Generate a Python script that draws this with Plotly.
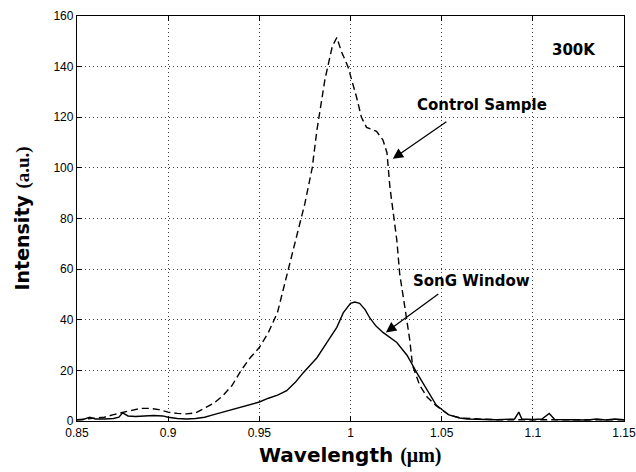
import plotly.graph_objects as go

# ---- data ----
control_wl = [0.850, 0.855, 0.860, 0.865, 0.870, 0.875, 0.880, 0.885, 0.890, 0.895,
              0.900, 0.905, 0.910, 0.915, 0.920, 0.925, 0.930, 0.935, 0.940, 0.945,
              0.950, 0.955, 0.960, 0.965, 0.971, 0.975, 0.979, 0.9816, 0.986, 0.990,
              0.9925, 0.995, 0.9986, 1.0033, 1.006, 1.0088, 1.0143, 1.0178, 1.020, 1.0216,
              1.0254, 1.027, 1.0298, 1.0325, 1.034, 1.038, 1.042, 1.047, 1.054, 1.060,
              1.070, 1.080, 1.100, 1.120, 1.150]
control_int = [0.5, 0.8, 1.0, 1.5, 2.5, 3.5, 4.2, 5.0, 5.0, 4.5,
               3.5, 3.0, 2.8, 3.2, 5.0, 7.0, 10.0, 14.0, 20.0, 25.0,
               29.0, 35.0, 43.0, 57.0, 74.0, 86.0, 100.0, 115.0, 135.0, 148.0,
               151.5, 146.0, 140.0, 128.0, 120.0, 116.0, 114.4, 111.0, 106.0, 92.5,
               71.5, 58.0, 45.0, 32.0, 22.0, 14.0, 9.5, 6.0, 2.4, 1.2,
               0.8, 0.5, 0.5, 0.5, 0.5]

song_wl = [0.850, 0.853, 0.857, 0.860, 0.865, 0.870, 0.873, 0.875, 0.878, 0.882,
           0.887, 0.892, 0.897, 0.900, 0.905, 0.910, 0.915, 0.920, 0.925, 0.930,
           0.935, 0.940, 0.945, 0.950, 0.955, 0.960, 0.965, 0.970, 0.974, 0.978,
           0.9816, 0.987, 0.9925, 0.996, 1.000, 1.0024, 1.005, 1.008, 1.0106, 1.014,
           1.0178, 1.0254, 1.031, 1.0364, 1.042, 1.047, 1.054, 1.060, 1.064, 1.070,
           1.080, 1.090, 1.0923, 1.094, 1.100, 1.105, 1.109, 1.112, 1.120, 1.130,
           1.135, 1.140, 1.145, 1.150]
song_int = [0.5, 0.5, 1.5, 0.8, 0.8, 1.0, 1.5, 3.2, 2.0, 1.8,
            2.0, 2.2, 2.0, 1.5, 1.0, 0.8, 1.0, 1.5, 2.5, 3.5,
            4.5, 5.5, 6.5, 7.5, 9.0, 10.2, 12.0, 15.5, 19.0, 22.0,
            25.0, 31.0, 37.0, 42.7, 46.5, 47.0, 46.5, 44.0, 40.7, 37.5,
            35.0, 31.0, 26.0, 19.0, 12.0, 6.3, 2.4, 1.2, 0.8, 0.6,
            0.5, 0.8, 3.5, 0.8, 0.6, 0.8, 3.0, 0.6, 0.4, 0.4,
            0.8, 0.4, 0.8, 0.5]

x_ticks = [0.85, 0.9, 0.95, 1.0, 1.05, 1.1, 1.15]
x_tick_labels = ["0.85", "0.9", "0.95", "1", "1.05", "1.1", "1.15"]
y_ticks = [0, 20, 40, 60, 80, 100, 120, 140, 160]

FONT = "Liberation Sans, Arial, Helvetica, sans-serif"
BOLD = "DejaVu Sans, Liberation Sans, sans-serif"

fig = go.Figure()
fig.add_trace(go.Scatter(x=control_wl, y=control_int, mode="lines",
                         line=dict(color="black", width=1.4, dash="7px,4px"),
                         name="Control Sample", showlegend=False))
fig.add_trace(go.Scatter(x=song_wl, y=song_int, mode="lines",
                         line=dict(color="black", width=1.4),
                         name="SonG Window", showlegend=False))

fig.add_annotation(x=1.1228, y=146.6, text="<b>300K</b>", showarrow=False,
                   font=dict(family=BOLD, size=15, color="black"))
fig.add_annotation(x=1.0232, y=103.6, ax=1.0534, ay=118.6, axref="x", ayref="y",
                   text="", showarrow=True, arrowhead=2, arrowsize=1.6, arrowwidth=1.3,
                   arrowcolor="black")
fig.add_annotation(x=1.0723, y=124.9, text="<b>Control Sample</b>", showarrow=False,
                   font=dict(family=BOLD, size=15, color="black"))
fig.add_annotation(x=1.0194, y=35, ax=1.049, ay=50.6, axref="x", ayref="y",
                   text="", showarrow=True, arrowhead=2, arrowsize=1.6, arrowwidth=1.3,
                   arrowcolor="black")
fig.add_annotation(x=1.0663, y=55.3, text="<b>SonG Window</b>", showarrow=False,
                   font=dict(family=BOLD, size=15, color="black"))

# axis titles
fig.add_annotation(x=0.5, y=-0.084, xref="paper", yref="paper", showarrow=False,
                   xanchor="center", yanchor="middle",
                   text="<b>Wavelength </b><b><span style='font-family:Liberation Serif'>(μm)</span></b>",
                   font=dict(family=BOLD, size=20, color="black"))
fig.add_annotation(x=-0.1005, y=0.5, xref="paper", yref="paper", showarrow=False,
                   xanchor="center", yanchor="middle", textangle=-90,
                   text="<b>Intensity </b><b><span style='font-family:Liberation Serif'>(a.u.)</span></b>",
                   font=dict(family=BOLD, size=19, color="black"))

axis_common = dict(showline=True, linecolor="black", linewidth=1.3, mirror="ticks",
                   ticks="inside", ticklen=5, tickcolor="black", tickwidth=1,
                   showgrid=True, gridcolor="#444", gridwidth=1, griddash="1px,3px",
                   zeroline=False, automargin=False, ticklabeloverflow="allow",
                   tickfont=dict(family=FONT, size=12, color="black"))

fig.update_xaxes(range=[0.85, 1.15], tickvals=x_ticks, ticktext=x_tick_labels, **axis_common)
fig.update_yaxes(range=[0, 160], tickvals=y_ticks, **axis_common)

fig.update_layout(width=636, height=472, plot_bgcolor="white", paper_bgcolor="white",
                  margin=dict(l=77, r=12, t=16, b=51, autoexpand=False), showlegend=False)

fig.write_html("out.html", config={"displayModeBar": False},
               post_script="document.body.style.margin='0';document.body.style.overflow='hidden';")
